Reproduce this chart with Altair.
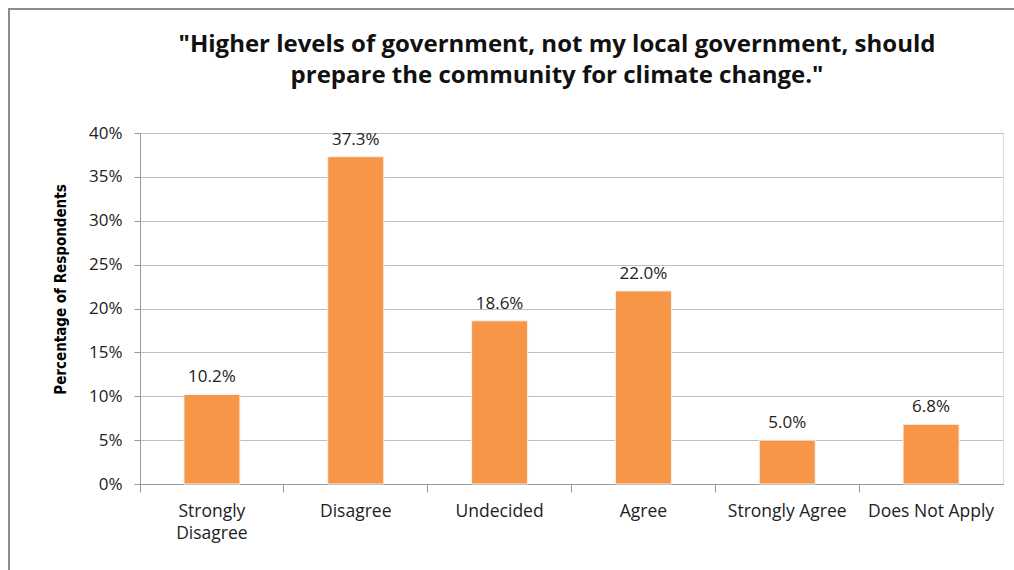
import altair as alt
import pandas as pd

categories = ["Strongly Disagree", "Disagree", "Undecided", "Agree", "Strongly Agree", "Does Not Apply"]
values = [0.102, 0.373, 0.186, 0.220, 0.050, 0.068]
labels = ["10.2%", "37.3%", "18.6%", "22.0%", "5.0%", "6.8%"]
y_ticks = [0, 0.05, 0.10, 0.15, 0.20, 0.25, 0.30, 0.35, 0.40]
title_lines = ['"Higher levels of government, not my local government, should',
               'prepare the community for climate change."']

df = pd.DataFrame({"cat": categories, "val": values, "lab": labels})
tdf = pd.DataFrame({"t": ["\n".join(title_lines)]})

FONT = "Open Sans"

x_enc = alt.X("cat:N", sort=categories, title=None,
              scale=alt.Scale(paddingInner=0, paddingOuter=0),
              axis=alt.Axis(labelAngle=0, labelFont=FONT, labelFontSize=17.5, labelColor="#222",
                            labelPadding=10, bandPosition=0, tickSize=8, tickColor="#999",
                            domainColor="#999", labelLineHeight=22,
                            labelExpr="datum.label == 'Strongly Disagree' ? ['Strongly','Disagree'] : datum.label"))
y_enc = alt.Y("val:Q", title="Percentage of Respondents",
              scale=alt.Scale(domain=[0, 0.4], nice=False),
              axis=alt.Axis(values=y_ticks, format=".0%", labelFont=FONT, labelFontSize=17,
                            labelColor="#222", labelPadding=12, tickSize=6, tickColor="#999",
                            domainColor="#999", gridColor="#BFBFBF",
                            titleFont="DejaVu Sans Condensed", titleFontSize=15, titleFontWeight="bold",
                            titleColor="#000", titlePadding=20, titleY=156))

bars = alt.Chart(df).mark_bar(color="#F79646", size=56, stroke="#F2F2F2", strokeWidth=1).encode(x=x_enc, y=y_enc)
text = alt.Chart(df).mark_text(font=FONT, fontSize=17, color="#222", dy=-17).encode(
    x=alt.X("cat:N", sort=categories), y="val:Q", text="lab:N")

border = alt.Chart(df).mark_rect(fill=None, stroke="#8C8C8C", strokeWidth=1.5).encode(
    x=alt.value(-131), x2=alt.value(900), y=alt.value(-124), y2=alt.value(460))

title = alt.Chart(tdf).mark_text(font=FONT, fontSize=24, fontWeight="bold", color="#111",
                                 lineBreak="\n", lineHeight=31, baseline="middle", align="center").encode(
    x=alt.value(417), y=alt.value(-88), text="t:N")

chart = alt.layer(border, bars, text, title).properties(
    width=863, height=351,
    autosize=alt.AutoSizeParams(type="none"),
    padding={"left": 140, "top": 133, "right": 11, "bottom": 86},
).configure_view(stroke=None).configure(background="white")

chart.save("out.html", embed_options={"renderer": "svg", "actions": False})
